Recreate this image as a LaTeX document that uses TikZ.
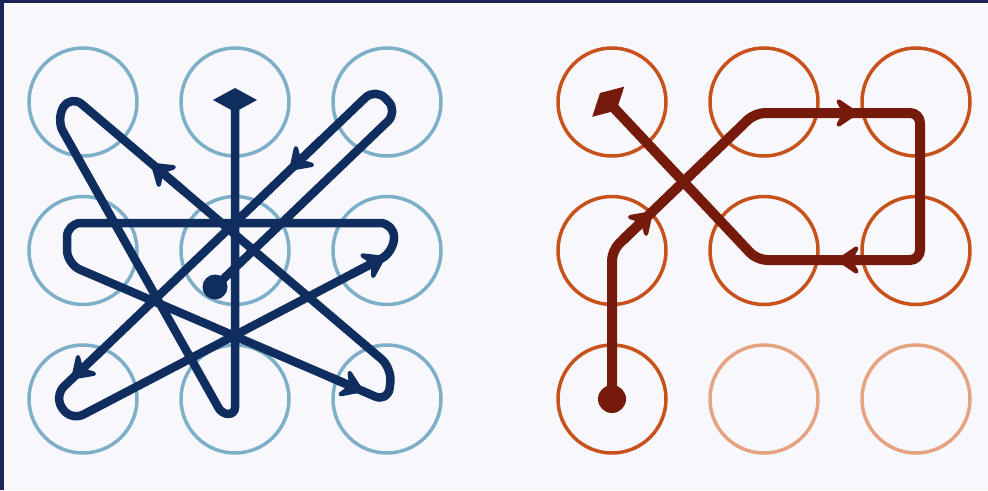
\documentclass[tikz,border=0pt]{standalone}
\usepackage{xcolor}
\usepackage{tikz}
\usetikzlibrary{positioning,arrows.meta,calc}
\definecolor{frame}{HTML}{1B2457}
\definecolor{paper}{HTML}{F8F8FC}
\definecolor{ringblue}{HTML}{7DB0C8}
\definecolor{pathblue}{HTML}{0F2D5E}
\definecolor{ringorange}{HTML}{C8521C}
\definecolor{ringfaded}{HTML}{E5A382}
\definecolor{pathred}{HTML}{761A0C}

\begin{document}
\begin{tikzpicture}[x=1pt, y=-1pt, node distance=40.5pt and 44pt,
  ring/.style={circle, draw=ringblue, line width=3.5pt, minimum size=108pt, inner sep=0pt, outer sep=0pt},
  oring/.style={ring, draw=ringorange},
  fring/.style={ring, draw=ringfaded},
  blueline/.style={draw=pathblue, line width=8.5pt, line cap=round, line join=round, rounded corners=14pt},
  redline/.style={draw=pathred, line width=10pt, line cap=round, line join=round, rounded corners=10pt},
  endtip/.style={-{Diamond[length=24pt,width=44pt]}},
  barr/.style={draw=pathblue, line width=8.5pt, line cap=round, -{Stealth[length=27pt,width=36pt,inset=10pt,round]}},
  rarr/.style={barr, draw=pathred, line width=10pt}]
\useasboundingbox (0,0) rectangle (988,490);
\fill[paper] (0,0) rectangle (988,490);
\fill[frame] (0,0) rectangle (988,3);
\fill[frame] (0,0) rectangle (4,490);
\node[ring] (L11) at (83,102) {};
\node[ring, right=of L11] (L12) {};
\node[ring, right=of L12] (L13) {};
\node[ring, below=of L11] (L21) {};
\node[ring, right=of L21] (L22) {};
\node[ring, right=of L22] (L23) {};
\node[ring, below=of L21] (L31) {};
\node[ring, right=of L31] (L32) {};
\node[ring, right=of L32] (L33) {};
\node[oring] (R11) at (612,102) {};
\node[oring, right=of R11] (R12) {};
\node[oring, right=of R12] (R13) {};
\node[oring, below=of R11] (R21) {};
\node[oring, right=of R21] (R22) {};
\node[oring, right=of R22] (R23) {};
\node[oring, below=of R21] (R31) {};
\node[fring, right=of R31] (R32) {};
\node[fring, right=of R32] (R33) {};
\coordinate (s) at ($(L22.center)+(-20,36.5)$);
\coordinate (c1b) at ($(L13.center)+(11,9.5)$);
\coordinate (c1a) at ($(L13.center)+(-11.5,-14)$);
\coordinate (c2a) at ($(L31.center)+(-29,-3)$);
\coordinate (c2b) at ($(L31.center)+(-12,22)$);
\coordinate (c3a) at ($(L23.center)+(7,1.5)$);
\coordinate (c3b) at ($(L23.center)+(7,-27.5)$);
\coordinate (c4a) at ($(L21.center)+(-16,-27.5)$);
\coordinate (c4b) at ($(L21.center)+(-16,13.5)$);
\coordinate (c5a) at ($(L33.center)+(1,3)$);
\coordinate (c5b) at ($(L33.center)+(5,-31)$);
\coordinate (c6a) at ($(L11.center)+(-12,-7)$);
\coordinate (c6b) at ($(L11.center)+(-27,17)$);
\coordinate (c7a) at ($(L32.center)+(-13,15)$);
\coordinate (c7b) at ($(L32.center)+(0,15)$);
\coordinate (e) at ($(L12.center)+(0,-14)$);
\draw[blueline, endtip] (s) -- (c1b) -- (c1a) -- (c2a) -- (c2b) -- (c3a) -- (c3b) -- (c4a) -- (c4b)
  -- (c5a) -- (c5b) -- (c6a) -- (c6b) [rounded corners=6.5pt] -- (c7a) -- (c7b) -- (e);
\draw[barr] ($(c1a)!0.17!(c2a)$) -- ($(c1a)!0.266!(c2a)$);
\draw[barr] ($(c1a)!0.85!(c2a)$) -- ($(c1a)!0.944!(c2a)$);
\draw[barr] ($(c2b)!0.87!(c3a)$) -- ($(c2b)!0.972!(c3a)$);
\draw[barr] ($(c4b)!0.82!(c5a)$) -- ($(c4b)!0.922!(c5a)$);
\draw[barr] ($(c5b)!0.65!(c6a)$) -- ($(c5b)!0.749!(c6a)$);
\fill[pathblue] (s) circle[radius=12.5pt];
\coordinate (d2) at ($(R12.center)+(-9,11)$);
\coordinate (d3) at ($(R13.center)+(4,11)$);
\coordinate (d4) at ($(R23.center)+(4,9.5)$);
\coordinate (d5) at ($(R22.center)+(-7,9.5)$);
\coordinate (f) at ($(R11.center)+(-12,-9)$);
\draw[redline, endtip] (R31.center) -- (R21.center) -- (d2) -- (d3) -- (d4) -- (d5) -- (f);
\draw[rarr] ($(R21.center)!0.08!(d2)$) -- ($(R21.center)!0.28!(d2)$);
\draw[rarr] ($(d2)!0.4!(d3)$) -- ($(d2)!0.624!(d3)$);
\draw[rarr] ($(d4)!0.28!(d5)$) -- ($(d4)!0.509!(d5)$);
\fill[pathred] (R31.center) circle[radius=14pt];
\end{tikzpicture}
\end{document}
